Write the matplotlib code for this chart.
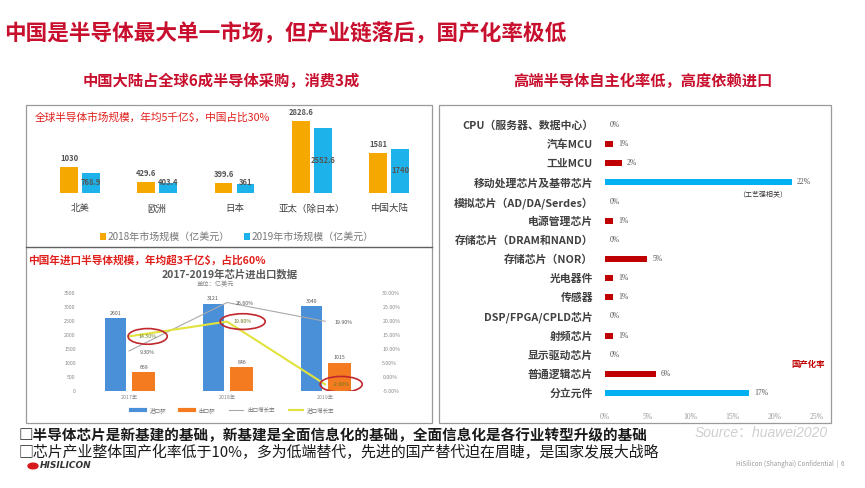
import numpy as np
import matplotlib
matplotlib.use('Agg')
from matplotlib import pyplot as plt
from matplotlib.patches import Rectangle, Ellipse, Circle
from matplotlib.lines import Line2D

plt.rcParams['font.family'] = ['Noto Sans CJK SC', 'DejaVu Sans']

# upper left: market size by region
regions = ['北美', '欧洲', '日本', '亚太（除日本）', '中国大陆']
market_2018 = [1030, 429.6, 399.6, 2828.6, 1581]
market_2019 = [768.9, 403.4, 361, 2552.6, 1740]

# lower left: chip import / export
years = ['2017年', '2018年', '2019年']
imports = [2601, 3121, 3040]
exports = [669, 846, 1015]
export_growth = [9.30, 26.60, 19.90]
import_growth = [14.50, 19.80, -2.60]

# right: localisation rate
chips = ['CPU（服务器、数据中心）', '汽车MCU', '工业MCU', '移动处理芯片及基带芯片',
         '模拟芯片（AD/DA/Serdes）', '电源管理芯片', '存储芯片（DRAM和NAND）',
         '存储芯片（NOR）', '光电器件', '传感器', 'DSP/FPGA/CPLD芯片', '射频芯片',
         '显示驱动芯片', '普通逻辑芯片', '分立元件']
local_rate = [0, 1, 2, 22, 0, 1, 0, 5, 1, 1, 0, 1, 0, 6, 17]

W, H = 865, 488
RED = '#c8102e'


def rect(x0, y0, x1, y1):
    return [x0 / W, 1 - y1 / H, (x1 - x0) / W, (y1 - y0) / H]


def ftext(x, y, s, **kw):
    kw.setdefault('va', 'center')
    return fig.text(x / W, 1 - y / H, s, **kw)


def box(x0, y0, x1, y1):
    fig.add_artist(Rectangle((x0 / W, 1 - y1 / H), (x1 - x0) / W, (y1 - y0) / H,
                             transform=fig.transFigure, fill=False,
                             ec='#9a9a9a', lw=0.9))


fig = plt.figure(figsize=(W / 100, H / 100), dpi=100)
fig.patch.set_facecolor('white')

# titles
ftext(4, 33, '中国是半导体最大单一市场，但产业链落后，国产化率极低',
      fontsize=15.6, weight='bold', color=RED)
ftext(221, 81, '中国大陆占全球6成半导体采购，消费3成', ha='center',
      fontsize=11, weight='bold', color=RED)
ftext(643, 81, '高端半导体自主化率低，高度依赖进口', ha='center',
      fontsize=11, weight='bold', color=RED)

# frames
box(26, 105, 432, 423)
fig.add_artist(Line2D([26 / W, 432 / W], [1 - 247 / H, 1 - 247 / H],
                      transform=fig.transFigure, color='#606060', lw=1.0))
box(439, 105, 831, 423)

# ---- upper left chart
ax1 = fig.add_axes(rect(41.4, 106.5, 427.6, 193))
x = np.arange(len(regions))
b18 = ax1.bar(x - 0.142, market_2018, 0.23, color='#f5a800')
b19 = ax1.bar(x + 0.142, market_2019, 0.23, color='#1db3ea')
for xi, v in zip(x, market_2018):
    ax1.text(xi - 0.142, v + 150, f'{v:g}', ha='center', va='bottom',
             fontsize=5.5, weight='bold', color='#555555')
for xi, v in zip(x, market_2019):
    ax1.text(xi + 0.142, max(v * 0.5, 430), f'{v:g}', ha='center', va='center',
             fontsize=5.5, weight='bold', color='#555555')
ax1.set_xlim(-0.5, 4.5)
ax1.set_ylim(0, 3400)
ax1.set_xticks(x)
ax1.set_xticklabels(regions, fontsize=6.8, color='#404040')
ax1.tick_params(axis='x', length=0, pad=8)
ax1.set_yticks([])
for s in ax1.spines.values():
    s.set_visible(False)
ftext(35, 117, '全球半导体市场规模，年均5千亿$，中国占比30%',
      fontsize=7.7, color='#e0201c')
fig.legend([b18, b19], ['2018年市场规模（亿美元）', '2019年市场规模（亿美元）'],
           loc='center', bbox_to_anchor=(237 / W, 1 - 237 / H), ncol=2,
           frameon=False, fontsize=7.2, handlelength=0.6, handleheight=0.6,
           handletextpad=0.2, columnspacing=1.4, labelcolor='#777777')

# ---- lower left chart
ftext(28, 260, '中国年进口半导体规模，年均超3千亿$，占比60%',
      fontsize=7.7, weight='bold', color='#e0201c')
ftext(230, 274, '2017-2019年芯片进出口数据', ha='center', fontsize=7.5,
      weight='bold', color='#595959')
ftext(215, 284, '单位：亿美元', ha='center', fontsize=4.5, color='#888888')

ax2 = fig.add_axes(rect(80, 293, 374, 391))
xy = np.arange(len(years))
ax2.bar(xy - 0.14, imports, 0.21, color='#4a90d9')
ax2.bar(xy + 0.15, exports, 0.23, color='#f47b20')
for xi, v in zip(xy, imports):
    ax2.text(xi - 0.14, v + 80, str(v), ha='center', va='bottom',
             fontsize=3.8, color='#555555')
for xi, v in zip(xy, exports):
    ax2.text(xi + 0.15, v + 80, str(v), ha='center', va='bottom',
             fontsize=3.8, color='#555555')
ax2.set_xlim(-0.5, 2.5)
ax2.set_ylim(0, 3500)
ax2.set_yticks(np.arange(0, 3501, 500))
ax2.set_xticks(xy)
ax2.set_xticklabels(years)
ax2.tick_params(length=0, labelsize=3.8, labelcolor='#888888', pad=3)
for s in ax2.spines.values():
    s.set_visible(False)

ax2r = ax2.twinx()
ax2r.plot(xy, export_growth, color='#a9a9a9', lw=0.8)
ax2r.plot(xy, import_growth, color='#e2e23c', lw=1.5)
ax2r.set_ylim(-5, 30)
ax2r.set_yticks(np.arange(-5, 31, 5))
ax2r.set_yticklabels([f'{v:.2f}%' for v in np.arange(-5, 31, 5)])
ax2r.tick_params(length=0, labelsize=3.8, labelcolor='#888888', pad=6)
for s in ax2r.spines.values():
    s.set_visible(False)
for xi, v in zip(xy, export_growth):
    ax2r.annotate(f'{v:.2f}%', (xi, v), xytext=(13, -1), textcoords='offset points',
                  ha='center', va='center', fontsize=3.8, color='#555555')
ell_w = [0.40, 0.46, 0.43]
ell_dx = [0.19, 0.16, 0.165]
for xi, v, w, dx in zip(xy, import_growth, ell_w, ell_dx):
    ax2r.annotate(f'{v:.2f}%', (xi, v), xytext=(dx * 98 * 0.72, 0),
                  textcoords='offset points', ha='center', va='center',
                  fontsize=3.8, color='#6a7a20')
    ax2r.add_patch(Ellipse((xi + dx, v), w, 5.6, fill=False,
                           ec='#c0282d', lw=1.2, zorder=5))

leg_handles = [Line2D([], [], color='#4a90d9', lw=3),
               Line2D([], [], color='#f47b20', lw=3),
               Line2D([], [], color='#a9a9a9', lw=0.8),
               Line2D([], [], color='#e2e23c', lw=1.5)]
fig.legend(leg_handles, ['进口额', '出口额', '出口增长率', '进口增长率'],
           loc='center', bbox_to_anchor=(233 / W, 1 - 410 / H), ncol=4,
           frameon=False, fontsize=4, handlelength=2.5, columnspacing=2.5,
           labelcolor='#777777')

# ---- right chart
ax3 = fig.add_axes(rect(605, 113.5, 817, 404.5))
yc = np.arange(len(chips))
colors = ['#00b0f0' if v > 10 else '#c00000' for v in local_rate]
ax3.barh(yc, local_rate, 0.32, color=colors)
for yi, v in zip(yc, local_rate):
    ax3.text(v + 0.6, yi, f'{v}%', va='center', ha='left', fontsize=5.5,
             color='#555555', family='Liberation Serif')
ax3.set_xlim(0, 25)
ax3.set_ylim(14.6, -0.6)
ax3.set_yticks(yc)
ax3.set_yticklabels(chips, fontsize=7.8, weight='bold', color='#404040')
ax3.set_xticks(np.arange(0, 26, 5))
ax3.set_xticklabels([f'{v}%' for v in range(0, 26, 5)], family='Liberation Serif')
ax3.tick_params(axis='y', length=0, pad=8.5)
ax3.tick_params(axis='x', length=0, labelsize=5.5, labelcolor='#999999', pad=6)
for s in ax3.spines.values():
    s.set_visible(False)
ftext(763, 194, '（工艺强相关）', ha='center', fontsize=5, color='#333333')
ftext(808, 364, '国产化率', ha='center', fontsize=6, weight='bold', color='#c00000')

# ---- footer
ftext(19, 435, '□半导体芯片是新基建的基础，新基建是全面信息化的基础，全面信息化是各行业转型升级的基础',
      fontsize=10.5, weight='bold', color='#1a1a1a')
ftext(19, 452, '□芯片产业整体国产化率低于10%，多为低端替代，先进的国产替代迫在眉睫，是国家发展大战略',
      fontsize=10.75, color='#1a1a1a')
ftext(695, 433, 'Source：huawei2020', fontsize=10, style='italic', color='#cfcfcf',
      family=['Liberation Sans', 'Noto Sans CJK SC'])
ftext(845, 464, 'HiSilicon (Shanghai) Confidential  |  6', ha='right',
      fontsize=4.5, color='#999999')
fig.add_artist(Circle((33 / W, 1 - 466 / H), 5 / W, transform=fig.transFigure,
                      color='#d7191c'))
ftext(40, 466, 'HISILICON', fontsize=6.5, weight='bold', style='italic',
      color='#333333', family='DejaVu Sans')

fig.savefig('out.png', dpi=100)
